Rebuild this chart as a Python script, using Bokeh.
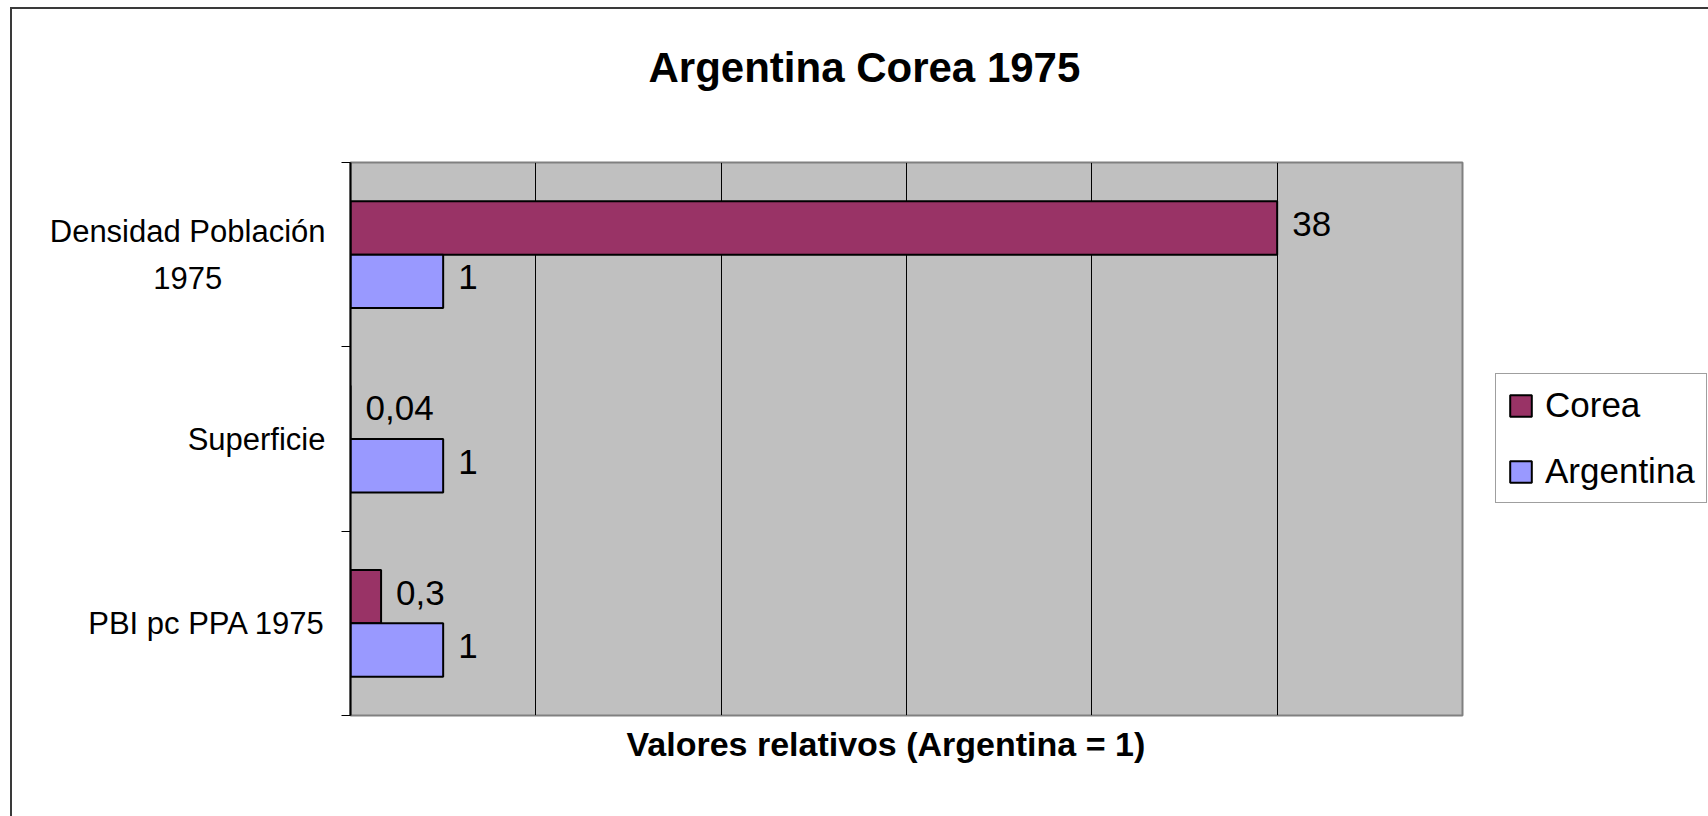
from bokeh.plotting import figure
from bokeh.models import (Range1d, FixedTicker, Grid, Legend, LegendItem,
                          LinearAxis, Title)
from bokeh.embed import file_html
from bokeh.resources import INLINE
from bokeh.core.properties import value

# ---- data (categories listed top to bottom, as in the chart) ----
categories = ["Densidad Población\n1975", "Superficie", "PBI pc PPA 1975"]
series_names = ["Corea", "Argentina"]
corea_values = [10.0, 0.0, 0.33]        # bar lengths as drawn
corea_labels = ["38", "0,04", "0,3"]
argentina_values = [1.0, 1.0, 1.0]
argentina_labels = ["1", "1", "1"]
x_grid_ticks = [2, 4, 6, 8, 10]
title_text = "Argentina Corea 1975"
x_title_text = "Valores relativos (Argentina = 1)"

FNAME = "Liberation Sans"
FONT = value(FNAME)
n = len(categories)
pos = [n - 0.5 - i for i in range(n)]
bar_h = 0.29
off = 0.145

# second line of the two-line category is centred under the first
def centred(label):
    if "\n" not in label:
        return label
    a, b = label.split("\n")
    pad = max(0, round((len(a) - len(b)) * 0.5 * 1.75))
    return a + "\n" + b + "\u00a0" * pad

FL, FT = 338, 153
FW, FH = 1112, 553
TOTAL_W, TOTAL_H = 1696, 807
p = figure(frame_width=FW, frame_height=FH, output_backend="svg",
           toolbar_location=None, title=None,
           x_range=Range1d(0, 12), y_range=Range1d(0, n),
           x_axis_location=None, y_axis_location="left",
           min_border_left=FL, min_border_right=TOTAL_W - FL - FW,
           min_border_top=FT, min_border_bottom=TOTAL_H - FT - FH)
p.styles = {"margin-left": "10px", "margin-top": "7px",
            "border-left": "2px solid #3a3a3a", "border-top": "2px solid #3a3a3a"}
p.background_fill_color = "#c0c0c0"
p.border_fill_color = "white"
p.outline_line_color = "#808080"
p.outline_line_width = 2
p.ygrid.visible = False
p.add_layout(Grid(dimension=0, ticker=FixedTicker(ticks=x_grid_ticks),
                  grid_line_color="black", grid_line_width=1))

# inner left axis: boundary ticks only
ax = p.yaxis[0]
ax.ticker = FixedTicker(ticks=list(range(n + 1)))
ax.major_label_overrides = {i: "" for i in range(n + 1)}
ax.major_tick_out = 9
ax.major_tick_in = 0
ax.minor_tick_out = 0
ax.minor_tick_in = 0
ax.axis_line_color = "black"
ax.axis_line_width = 2
ax.major_tick_line_color = "black"
ax.major_tick_line_width = 1

# outer left axis: category names
cax = LinearAxis(ticker=FixedTicker(ticks=pos),
                 major_label_overrides={y: centred(c) for y, c in zip(pos, categories)},
                 major_tick_out=0, major_tick_in=0, minor_tick_out=0, minor_tick_in=0,
                 axis_line_color=None, major_label_standoff=16,
                 major_label_text_font=FNAME, major_label_text_font_size="31px",
                 major_label_text_color="black", major_label_text_line_height=1.35)
p.add_layout(cax, "left")

yc = [y + off for y in pos]
ya = [y - off for y in pos]
rc = p.hbar(y=yc, right=corea_values, left=0, height=bar_h,
            fill_color="#993366", line_color="black", line_width=2)
ra = p.hbar(y=ya, right=argentina_values, left=0, height=bar_h,
            fill_color="#9999ff", line_color="black", line_width=2)

p.text(x=corea_values, y=yc, text=corea_labels, x_offset=15, y_offset=-4,
       text_baseline="middle", text_align="left", text_font=FONT,
       text_font_size="35px", text_color="black")
p.text(x=argentina_values, y=ya, text=argentina_labels, x_offset=15, y_offset=-4,
       text_baseline="middle", text_align="left", text_font=FONT,
       text_font_size="35px", text_color="black")

# invisible spacer axis above the frame, then the chart title beyond it
p.add_layout(LinearAxis(ticker=FixedTicker(ticks=[6]), major_tick_out=67, major_tick_in=0,
                        major_tick_line_color=None, axis_line_color=None,
                        major_label_overrides={6: ""}, major_label_standoff=0,
                        major_label_text_font_size="0px",
                        minor_tick_out=0, minor_tick_in=0), "above")
p.add_layout(Title(text=title_text, align="left", offset=298, standoff=10,
                   text_font=FNAME, text_font_size="42px", text_font_style="bold",
                   text_color="black"), "above")

# axis title below
p.add_layout(Title(text=x_title_text, align="left", offset=276, vertical_align="top",
                   standoff=18, text_font=FNAME, text_font_size="34px",
                   text_font_style="bold", text_color="black"), "below")

legend = Legend(items=[LegendItem(label=series_names[0], renderers=[rc]),
                       LegendItem(label=series_names[1], renderers=[ra])],
                location=(33, 212), orientation="vertical",
                label_text_font=FNAME, label_text_font_size="35px",
                label_text_color="black",
                glyph_width=27, glyph_height=27, label_standoff=11,
                padding=11, spacing=26, margin=0,
                border_line_color="#404040", border_line_width=1.5,
                background_fill_color="white", background_fill_alpha=1)
p.add_layout(legend, "right")

html = file_html(p, INLINE)
html = html.replace("<body>", '<body style="background-color:#f0f0f0;">', 1)
open("out.html", "w").write(html)
